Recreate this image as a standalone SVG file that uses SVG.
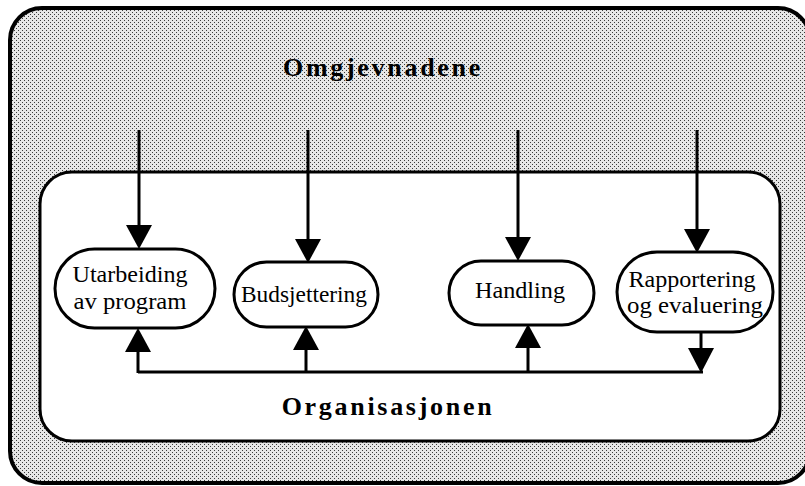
<svg xmlns="http://www.w3.org/2000/svg" width="805" height="486" viewBox="0 0 805 486">
<defs>
<pattern id="stip" width="4" height="4" patternUnits="userSpaceOnUse">
<rect width="4" height="4" fill="#e6e6e6"/>
<rect x="0" y="0" width="1" height="1" fill="#3a3a3a"/>
<rect x="2" y="2" width="1" height="1" fill="#3a3a3a"/>
</pattern>
</defs>
<style>
.box{fill:#fff;stroke:#000;stroke-width:3}
.ln{fill:none;stroke:#000;stroke-width:3}
.hd{fill:#000;stroke:none}
.lbl{font-family:"Liberation Serif","Times New Roman",serif;font-size:23px;fill:#000;text-anchor:middle}
.ttl{font-family:"Liberation Serif","Times New Roman",serif;font-size:26px;font-weight:bold;fill:#000;text-anchor:middle;letter-spacing:2.7px}
</style>
<rect width="805" height="486" fill="#fff"/>
<g id="omgjevnadene">
<rect x="10" y="8" width="800" height="475" rx="32" fill="url(#stip)" stroke="#000" stroke-width="4"/>
<text class="ttl" x="383" y="76">Omgjevnadene</text>
</g>
<g id="organisasjonen">
<rect x="40" y="172" width="740" height="269" rx="32" class="box"/>
<text class="ttl" x="388" y="415">Organisasjonen</text>
</g>
<g id="connectors">
<path class="ln" d="M139,130 V226"/>
<path class="hd" d="M126,225 L152,225 L139,249 Z"/>
<path class="ln" d="M308,130 V240"/>
<path class="hd" d="M295,239 L321,239 L308,263 Z"/>
<path class="ln" d="M518,130 V238"/>
<path class="hd" d="M505,237 L531,237 L518,261 Z"/>
<path class="ln" d="M697,130 V230"/>
<path class="hd" d="M684,229 L710,229 L697,253 Z"/>
<path class="ln" d="M138,372 H703"/>
<path class="ln" d="M138,373 V350"/>
<path class="hd" d="M125,352 L151,352 L138,328 Z"/>
<path class="ln" d="M306,373 V348"/>
<path class="hd" d="M293,350 L319,350 L306,326 Z"/>
<path class="ln" d="M528,373 V346"/>
<path class="hd" d="M515,348 L541,348 L528,324 Z"/>
<path class="ln" d="M701,332 V350"/>
<path class="hd" d="M688,348 L714,348 L701,373 Z"/>
</g>
<g id="utarbeiding">
<rect x="55" y="249" width="160" height="79" rx="39.5" class="box"/>
<text class="lbl" x="130" y="282" textLength="115" lengthAdjust="spacingAndGlyphs">Utarbeiding</text>
<text class="lbl" x="130" y="309" textLength="113" lengthAdjust="spacingAndGlyphs">av program</text>
</g>
<g id="budsjettering">
<rect x="234" y="262" width="144" height="65" rx="32.5" class="box"/>
<text class="lbl" x="304" y="302" textLength="126" lengthAdjust="spacingAndGlyphs">Budsjettering</text>
</g>
<g id="handling">
<rect x="449" y="261" width="145" height="64" rx="32" class="box"/>
<text class="lbl" x="520" y="298" textLength="90" lengthAdjust="spacingAndGlyphs">Handling</text>
</g>
<g id="rapportering">
<rect x="617" y="252" width="156" height="80" rx="40" class="box"/>
<text class="lbl" x="692" y="287" textLength="127" lengthAdjust="spacingAndGlyphs">Rapportering</text>
<text class="lbl" x="695" y="313" textLength="136" lengthAdjust="spacingAndGlyphs">og evaluering</text>
</g>
</svg>
